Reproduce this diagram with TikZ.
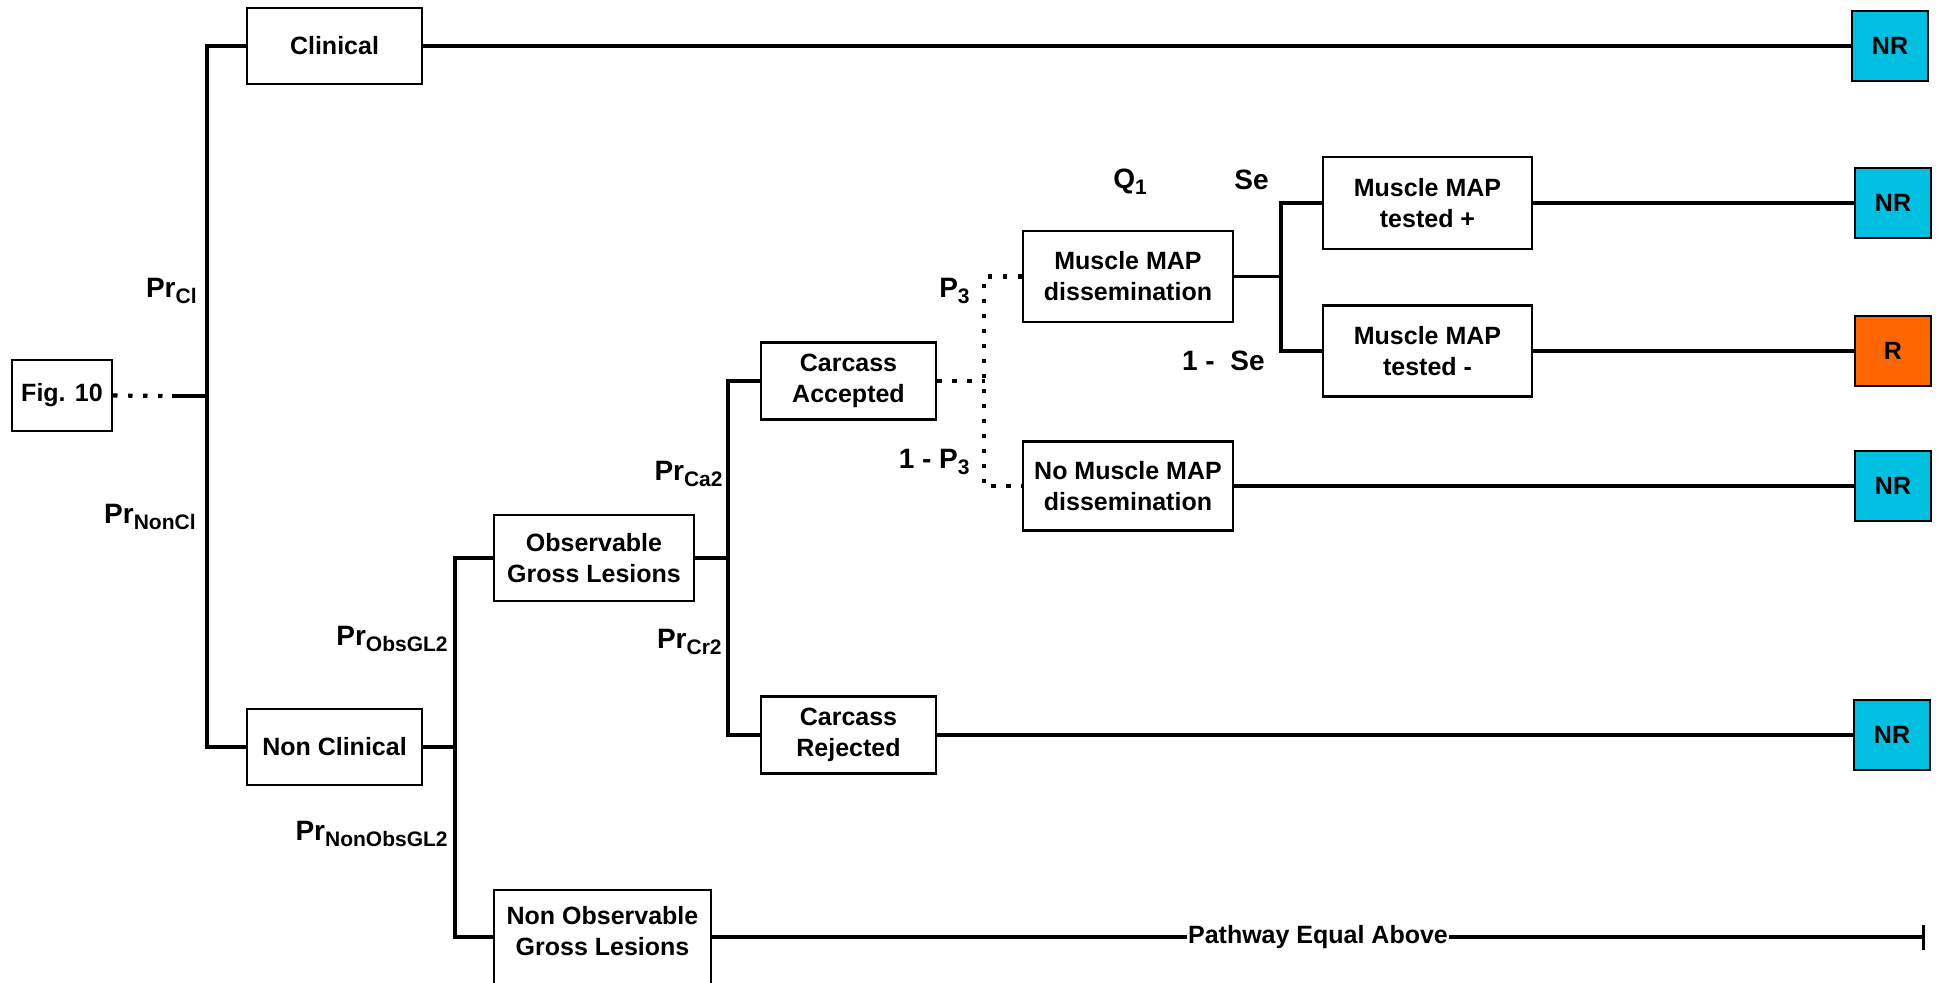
\documentclass[tikz,border=0pt]{standalone}
\usepackage{fontspec}
\setmainfont{Liberation Sans}
\usetikzlibrary{arrows.meta}
\definecolor{nrcyan}{RGB}{0,192,226}
\definecolor{rorange}{RGB}{255,102,0}
\newcommand{\lsub}[1]{\raisebox{-3pt}{\fontsize{10.5}{12}\selectfont #1}}
\begin{document}
\begin{tikzpicture}[x=0.5pt,y=-0.5pt,
 box/.style={draw, line width=1.1pt, fill=white, inner sep=0pt, align=center, font=\fontsize{12.5}{15.5}\selectfont\bfseries},
 endbox/.style={box, minimum width=38pt, minimum height=35pt},
 nr/.style={endbox, fill=nrcyan},
 rr/.style={endbox, fill=rorange},
 lbl/.style={inner sep=0pt, font=\fontsize{14}{16}\selectfont\bfseries},
 conn/.style={line width=1.7pt},
 dotconn/.style={line width=2.1pt, dash pattern=on 2.2pt off 5.3pt}
]
\useasboundingbox (0,0) rectangle (1939,982);

% boxes
\node[box, minimum width=50pt, minimum height=35.5pt] (fig) at (62,395.5) {Fig. 10};
\node[box, minimum width=87.5pt, minimum height=38pt] (clin) at (334.5,46) {Clinical};
\node[box, minimum width=87.5pt, minimum height=38pt] (nonclin) at (334.5,747) {Non Clinical};
\node[box, minimum width=100pt, minimum height=43pt] (obs) at (594,558) {Observable\\Gross Lesions};
\node[box, minimum width=108.5pt, minimum height=50pt] (nonobs) at (602.5,940) {Non Observable\\Gross Lesions\\[-6pt]\mbox{}};
\node[box, minimum width=87.5pt, minimum height=38.5pt] (acc) at (848.5,381) {Carcass\\Accepted};
\node[box, minimum width=87.5pt, minimum height=38.5pt] (rej) at (848.5,735) {Carcass\\Rejected};
\node[box, minimum width=105pt, minimum height=45.5pt] (diss) at (1128,276.5) {Muscle MAP\\dissemination};
\node[box, minimum width=105pt, minimum height=44.5pt] (nodiss) at (1128,486) {No Muscle MAP\\dissemination};
\node[box, minimum width=104.5pt, minimum height=46pt] (tp) at (1427.5,203) {Muscle MAP\\tested +};
\node[box, minimum width=104.5pt, minimum height=45.5pt] (tm) at (1427.5,351) {Muscle MAP\\tested -};

% end boxes
\node[nr] (nr1) at (1890,46) {NR};
\node[nr] (nr2) at (1893,203) {NR};
\node[rr] (r1) at (1893,351) {R};
\node[nr] (nr3) at (1893,486) {NR};
\node[nr] (nr4) at (1892,735) {NR};

% coordinates
\coordinate (j0) at (172,396);
\coordinate (t0) at (208,396);
\coordinate (v2) at (456,747);
\coordinate (v3) at (729,558);
\coordinate (v4) at (985,381);
\coordinate (v5) at (1282,276.5);
\coordinate (pstart) at (711,937);
\coordinate (pend) at (1925,937);

% connectors
\draw[dotconn] (fig.east) -- (j0);
\draw[conn] (j0) -- (t0);
\draw[conn] (clin.west) -- ++(-39,0) |- (nonclin.west);
\draw[conn] (clin.east) -- (nr1.west);
\draw[conn] (nonclin.east) -- (v2);
\draw[conn] (obs.west) -- ++(-38,0) |- (nonobs.west |- pstart);
\draw[conn] (obs.east) -- (v3);
\draw[conn] (acc.west) -- ++(-32,0) |- (rej.west);
\draw[conn] (rej.east) -- (nr4.west);
\draw[dotconn] (acc.east) -- (v4);
\draw[dotconn] (diss.west) -- ++(-38,0) |- (nodiss.west);
\draw[conn] (diss.east) -- (v5);
\draw[conn] (tp.west) -- ++(-41,0) |- (tm.west);
\draw[conn] (tp.east) -- (nr2.west);
\draw[conn] (tm.east) -- (r1.west);
\draw[conn] (nodiss.east) -- (nr3.west);
\draw[conn,-{Bar[width=12.5pt,line width=1.6pt]}] (pstart) -- node[fill=white, inner sep=0.5pt, font=\fontsize{12.5}{15}\selectfont\bfseries] (pw) {Pathway Equal Above} (pend);

% labels
\node[lbl, anchor=base east] (prcl) at (197,297) {Pr\lsub{Cl}};
\node[lbl, anchor=base east] (prnoncl) at (196,523) {Pr\lsub{NonCl}};
\node[lbl, anchor=base east] (probs) at (448,645) {Pr\lsub{ObsGL2}};
\node[lbl, anchor=base east] (prnonobs) at (448,840) {Pr\lsub{NonObsGL2}};
\node[lbl, anchor=base east] (prca) at (723,480) {Pr\lsub{Ca2}};
\node[lbl, anchor=base east] (prcr) at (722,648) {Pr\lsub{Cr2}};
\node[lbl, anchor=base east] (p3) at (970,297) {P\lsub{3}};
\node[lbl, anchor=base east] (onep3) at (970,468) {1 - P\lsub{3}};
\node[lbl, anchor=base west] (q1) at (1113,188) {Q\lsub{1}};
\node[lbl, anchor=base west] (se) at (1234,189) {Se};
\node[lbl, anchor=base east] (onese) at (1265,370) {1 -~ Se};
\end{tikzpicture}
\end{document}
